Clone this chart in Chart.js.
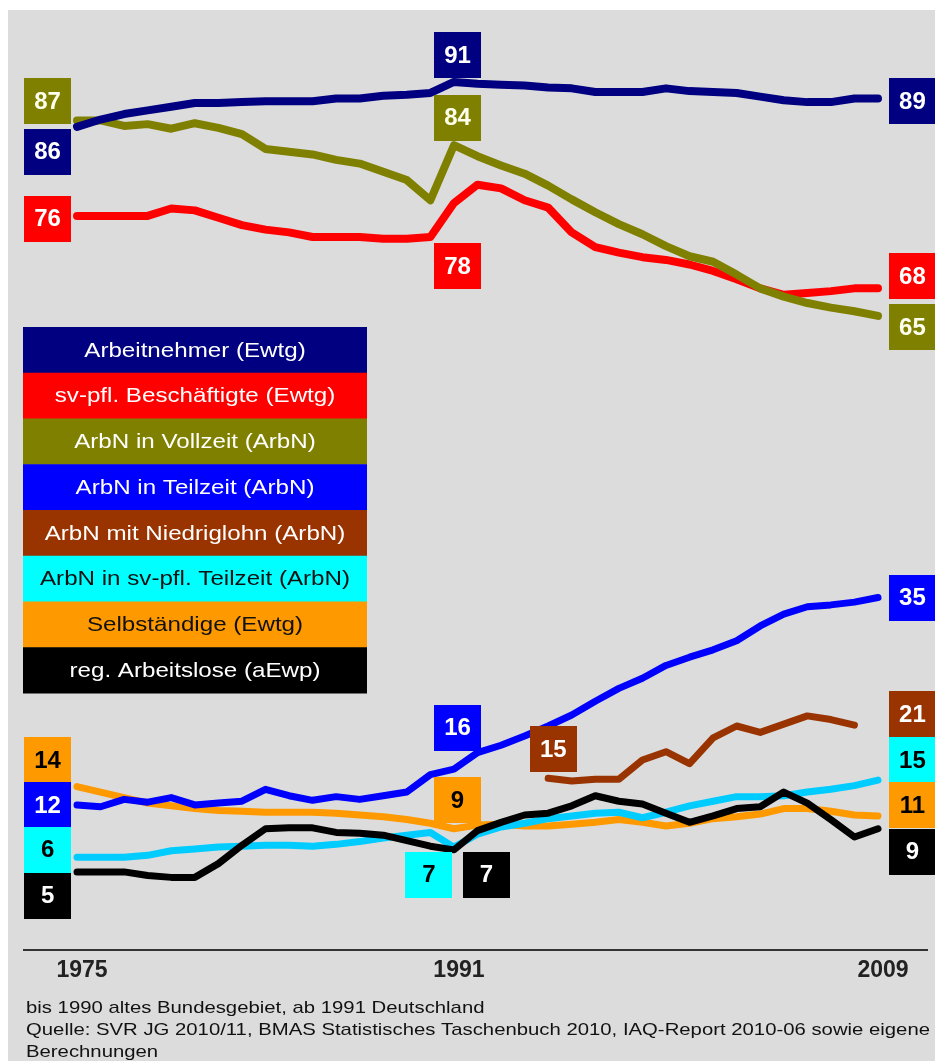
<!DOCTYPE html>
<html><head><meta charset="utf-8">
<script src="https://cdn.jsdelivr.net/npm/chart.js@4.4.1/dist/chart.umd.min.js"></script>
<style>html,body{margin:0;padding:0;background:#fff;overflow:hidden}</style>
</head><body><canvas id="c" width="935" height="1061"></canvas>
<script>
// ---------- DATA ----------
const years = [1975,1976,1977,1978,1979,1980,1981,1982,1983,1984,1985,1986,1987,1988,1989,1990,1991,1992,1993,1994,1995,1996,1997,1998,1999,2000,2001,2002,2003,2004,2005,2006,2007,2008,2009];
const tickYears = [1975, 1991, 2009];
const arbeitnehmer = [85.9,86.7,87.3,87.7,88.1,88.5,88.5,88.6,88.7,88.7,88.7,89.0,89.0,89.3,89.4,89.6,90.8,90.6,90.5,90.4,90.2,90.1,89.7,89.7,89.7,90.1,89.8,89.7,89.6,89.2,88.8,88.6,88.6,89.0,89.0];
const svBeschaeftigte = [76.2,76.2,76.2,76.2,77.0,76.8,76.0,75.2,74.7,74.4,73.9,73.9,73.9,73.7,73.7,73.9,77.6,79.6,79.2,77.9,77.1,74.4,72.8,72.2,71.7,71.4,70.9,70.2,69.3,68.3,67.6,67.8,68.0,68.3,68.3];
const vollzeit = [86.6,86.6,86.0,86.2,85.7,86.3,85.8,85.1,83.5,83.2,82.9,82.3,81.9,81.0,80.1,77.9,83.9,82.7,81.7,80.8,79.5,78.0,76.6,75.3,74.2,72.9,71.8,71.2,69.8,68.3,67.4,66.7,66.2,65.8,65.3];
const teilzeit = [12.0,11.8,12.6,12.3,12.8,12.0,12.2,12.4,13.7,13.0,12.5,12.9,12.6,13.0,13.4,15.3,15.9,17.7,18.5,19.5,20.6,21.8,23.3,24.7,25.8,27.2,28.1,28.9,29.9,31.5,32.8,33.6,33.8,34.1,34.6];
const niedriglohn = [null,null,null,null,null,null,null,null,null,null,null,null,null,null,null,null,null,null,null,null,14.9,14.6,14.8,14.8,16.9,17.8,16.5,19.3,20.6,19.9,20.8,21.7,21.3,20.7,null];
const svTeilzeit = [6.3,6.3,6.3,6.5,7.0,7.2,7.4,7.5,7.6,7.6,7.5,7.7,8.0,8.4,8.7,9.0,7.4,8.8,9.6,10.0,10.5,10.8,11.1,11.2,10.6,11.2,11.9,12.4,12.9,12.9,13.0,13.4,13.7,14.1,14.7];
const selbstaendige = [14.0,13.4,12.8,12.2,11.9,11.6,11.4,11.3,11.2,11.2,11.2,11.1,10.9,10.7,10.4,10.0,9.4,9.8,9.9,9.7,9.7,9.9,10.1,10.4,10.1,9.7,10.0,10.5,10.7,11.0,11.6,11.6,11.3,10.9,10.8];
const arbeitslose = [4.7,4.7,4.7,4.3,4.1,4.1,5.6,7.6,9.4,9.5,9.5,9.0,8.9,8.7,8.1,7.5,7.1,9.2,10.1,10.9,11.1,11.9,13.0,12.4,12.1,11.1,10.1,10.8,11.6,11.8,13.4,12.2,10.4,8.5,9.4];
const seriesLabels = ['Arbeitnehmer (Ewtg)','sv-pfl. Beschäftigte (Ewtg)','ArbN in Vollzeit (ArbN)','ArbN in Teilzeit (ArbN)','ArbN mit Niedriglohn (ArbN)','ArbN in sv-pfl. Teilzeit (ArbN)','Selbständige (Ewtg)','reg. Arbeitslose (aEwp)'];
const footnotes = ['bis 1990 altes Bundesgebiet, ab 1991 Deutschland','Quelle: SVR JG 2010/11, BMAS Statistisches Taschenbuch 2010, IAQ-Report 2010-06 sowie eigene','Berechnungen'];

// ---------- STYLES ----------
const series = [
  {label: seriesLabels[0], data: arbeitnehmer,    line:'#000080', box:'#000080', text:'#ffffff', w:8},
  {label: seriesLabels[1], data: svBeschaeftigte, line:'#ff0000', box:'#ff0000', text:'#ffffff', w:8},
  {label: seriesLabels[2], data: vollzeit,        line:'#808000', box:'#808000', text:'#ffffee', w:8},
  {label: seriesLabels[3], data: teilzeit,        line:'#0000ff', box:'#0000ff', text:'#ffffff', w:7},
  {label: seriesLabels[4], data: niedriglohn,     line:'#993300', box:'#993300', text:'#ffffff', w:7},
  {label: seriesLabels[5], data: svTeilzeit,      line:'#00ccff', box:'#00ffff', text:'#000000', w:7},
  {label: seriesLabels[6], data: selbstaendige,   line:'#ff9900', box:'#ff9900', text:'#000000', w:7},
  {label: seriesLabels[7], data: arbeitslose,     line:'#000000', box:'#000000', text:'#ffffff', w:7}
];
// draw order: first drawn on top
const drawOrder = [0,2,1,3,4,7,5,6];

// value label boxes: series index, year of value, box centre in axis units
const valueBoxes = [
  {s:2, year:1975, bx:1973.75, by:88.7},
  {s:0, year:1975, bx:1973.75, by:83.2},
  {s:1, year:1975, bx:1973.75, by:75.9},
  {s:0, year:1991, bx:1991.15, by:93.7},
  {s:2, year:1991, bx:1991.15, by:86.9},
  {s:1, year:1991, bx:1991.15, by:70.7},
  {s:0, year:2009, bx:2010.46, by:88.7},
  {s:1, year:2009, bx:2010.46, by:69.6},
  {s:2, year:2009, bx:2010.46, by:64.1},
  {s:6, year:1975, bx:1973.75, by:16.9},
  {s:3, year:1975, bx:1973.75, by:12.0},
  {s:5, year:1975, bx:1973.75, by:7.1},
  {s:7, year:1975, bx:1973.75, by:2.1},
  {s:3, year:1991, bx:1991.15, by:20.4},
  {s:6, year:1991, bx:1991.15, by:12.5},
  {s:5, year:1991, bx:1989.94, by:4.4},
  {s:7, year:1991, bx:1992.38, by:4.4},
  {s:4, year:1995, bx:1995.22, by:18.1},
  {s:3, year:2009, bx:2010.46, by:34.6},
  {s:4, year:2008, bx:2010.46, by:21.9},
  {s:5, year:2009, bx:2010.46, by:16.9},
  {s:6, year:2009, bx:2010.46, by:12.0},
  {s:7, year:2009, bx:2010.46, by:6.9}
];

const FONT = '"Liberation Sans", Arial, sans-serif';

const datasets = drawOrder.map(i => {
  const s = series[i];
  const pts = [];
  years.forEach((y, k) => { if (s.data[k] !== null) pts.push({x: y, y: s.data[k]}); });
  return {label: s.label, data: pts, borderColor: s.line, backgroundColor: s.line,
    borderWidth: s.w, pointRadius: 0, tension: 0, borderJoinStyle: 'round',
    borderCapStyle: 'round', clip: false, fill: false};
});

const bgPlugin = {
  id: 'bg',
  beforeDraw(chart) {
    const ctx = chart.ctx;
    ctx.save();
    ctx.fillStyle = '#ffffff';
    ctx.fillRect(0, 0, chart.width, chart.height);
    ctx.fillStyle = '#dcdcdc';
    ctx.fillRect(8, 10, chart.width - 8, chart.height - 10);
    ctx.restore();
  }
};

const boxesPlugin = {
  id: 'boxes',
  afterDatasetsDraw(chart) {
    const ctx = chart.ctx, xs = chart.scales.x, ys = chart.scales.y;
    ctx.save();
    // legend
    const lx = 23, lw = 344, ly = 327, lh = 45.75;
    seriesLabels.forEach((t, i) => {
      const s = series[i];
      ctx.fillStyle = s.box;
      ctx.fillRect(lx, ly + i * lh, lw, lh + 0.5);
      ctx.fillStyle = s.text === '#ffffee' ? '#ffffff' : (s.text === '#000000' ? '#111111' : s.text);
      ctx.font = '21px ' + FONT;
      ctx.textAlign = 'center';
      ctx.textBaseline = 'middle';
      ctx.save();
      ctx.translate(lx + lw / 2, ly + i * lh + lh / 2 + 1);
      ctx.scale(1.15, 1);
      ctx.fillText(t, 0, 0);
      ctx.restore();
    });
    // value boxes
    valueBoxes.forEach(b => {
      const s = series[b.s];
      const v = s.data[years.indexOf(b.year)];
      const cx = xs.getPixelForValue(b.bx), cy = ys.getPixelForValue(b.by);
      const w = 47, h = 46;
      ctx.fillStyle = s.box;
      ctx.fillRect(Math.round(cx - w / 2), Math.round(cy - h / 2), w, h);
      ctx.fillStyle = s.text;
      ctx.font = 'bold 24px ' + FONT;
      ctx.textAlign = 'center';
      ctx.textBaseline = 'middle';
      ctx.fillText(String(Math.round(v)), cx, cy + 1);
    });
    ctx.restore();
  },
  afterDraw(chart) {
    const ctx = chart.ctx;
    ctx.save();
    ctx.fillStyle = '#111111';
    ctx.font = '17px ' + FONT;
    ctx.textAlign = 'left';
    ctx.textBaseline = 'middle';
    const sx = 904 / ctx.measureText(footnotes[1]).width;
    footnotes.forEach((t, i) => {
      ctx.save();
      ctx.translate(26, 1008 + i * 22);
      ctx.scale(sx, 1);
      ctx.fillText(t, 0, 0);
      ctx.restore();
    });
    ctx.restore();
  }
};

new Chart(document.getElementById('c'), {
  type: 'line',
  data: {datasets},
  options: {
    responsive: false,
    animation: false,
    devicePixelRatio: 1,
    layout: {padding: {left: 24, right: 8, top: 10, bottom: 0}},
    plugins: {legend: {display: false}, tooltip: {enabled: false}},
    scales: {
      x: {
        type: 'linear', min: 1972.75, max: 2011.08,
        afterBuildTicks: (sc) => { sc.ticks = tickYears.map(v => ({value: v})); },
        afterFit: (sc) => { sc.height = 111; },
        grid: {display: false, drawTicks: false},
        border: {display: true, color: '#333333', width: 2},
        ticks: {autoSkip: false, maxRotation: 0, padding: 7, labelOffset: 5,
          color: '#222222', font: {family: FONT, size: 23, weight: 'bold'},
          callback: (v) => String(v)}
      },
      y: {
        type: 'linear', display: false, min: -3.815, max: 98.64
      }
    }
  },
  plugins: [bgPlugin, boxesPlugin]
});
</script>
</body></html>
